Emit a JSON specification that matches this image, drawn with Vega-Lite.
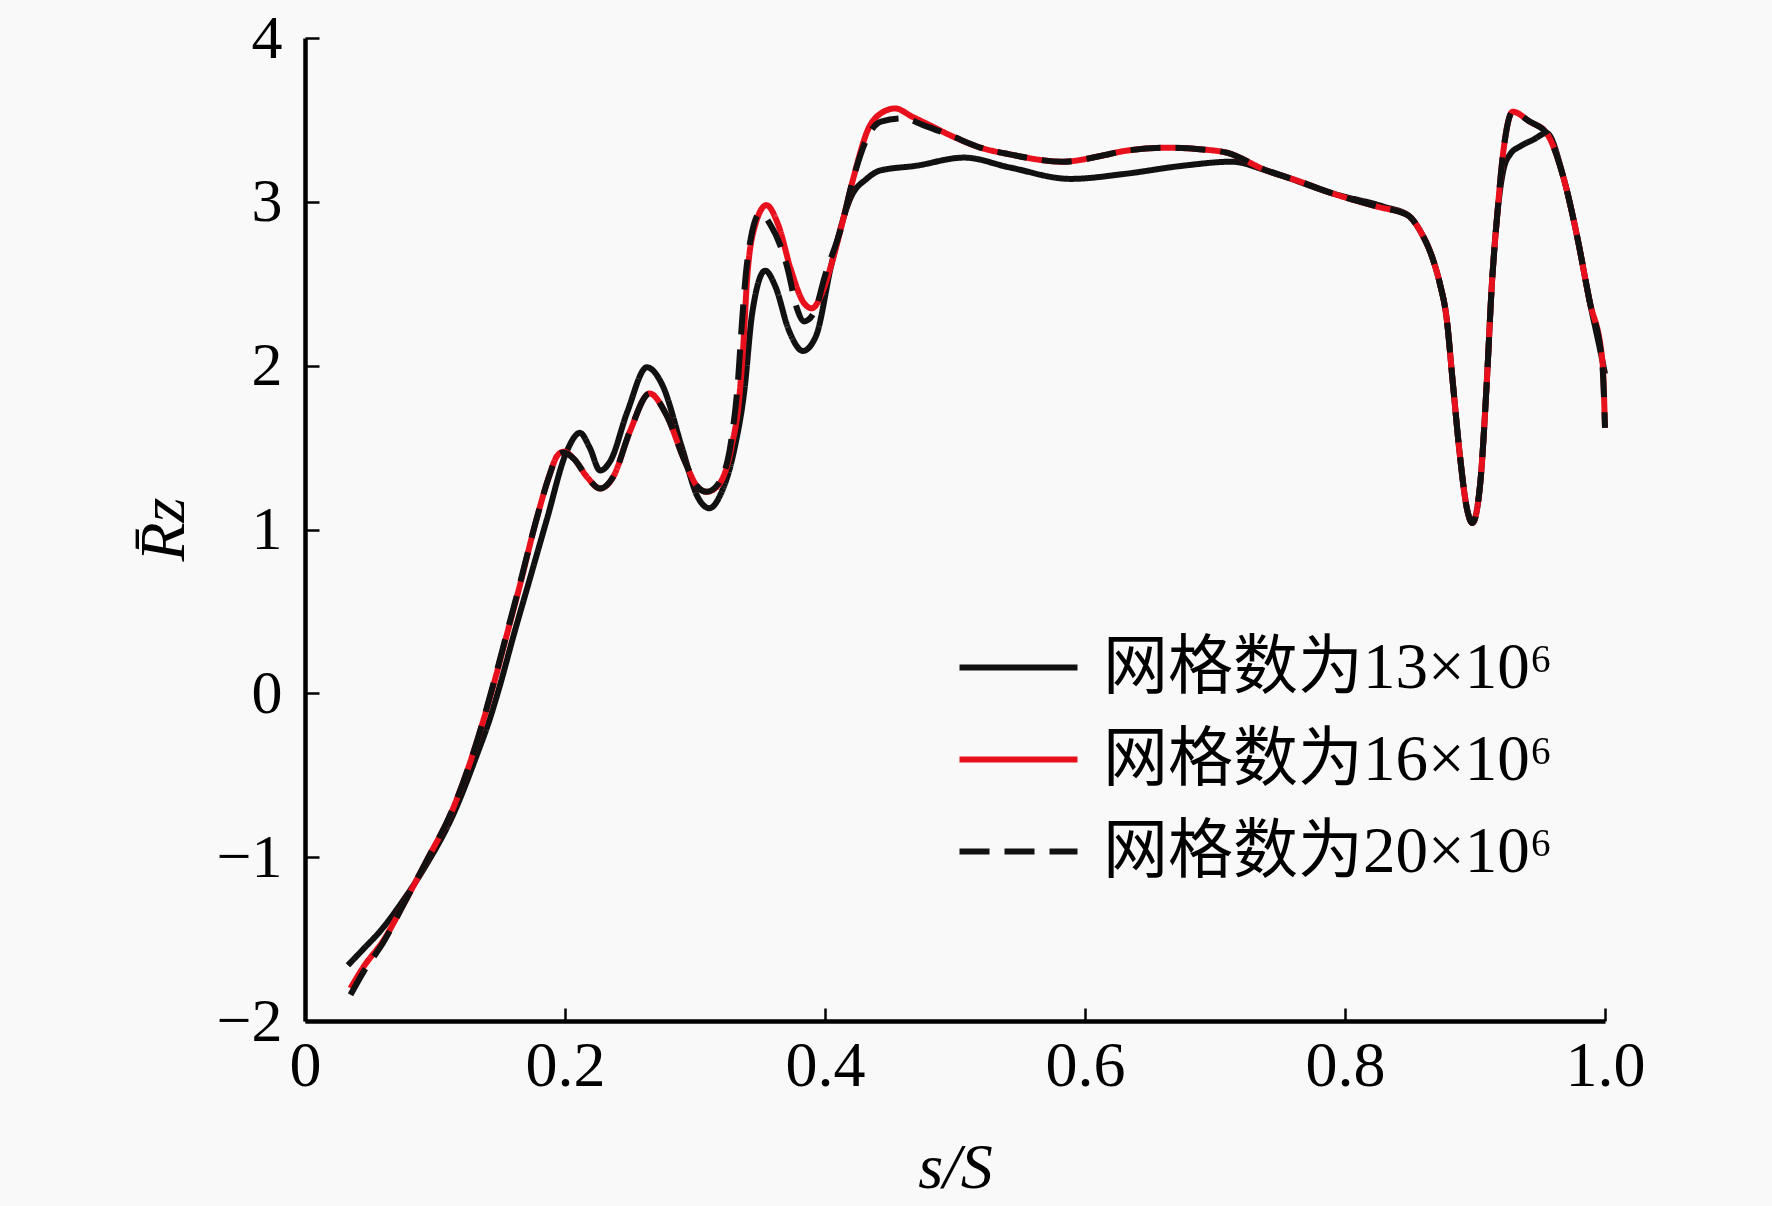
{
  "$schema": "https://vega.github.io/schema/vega-lite/v6.json",
  "width": 1300,
  "height": 983,
  "autosize": {"type": "none"},
  "padding": {"left": 305, "top": 38, "right": 167, "bottom": 185},
  "background": "#f9f9f9",
  "config": {
    "view": {"stroke": null},
    "axis": {"grid": false, "domainColor": "#000", "tickColor": "#000", "labelColor": "#000", "titleColor": "#000", "labelFont": "Liberation Serif", "titleFont": "Liberation Serif", "titleFontWeight": "normal", "titleFontStyle": "italic"}
  },
  "datasets": {
    "A": [
      [0.033,-1.66],[0.045,-1.56],[0.058,-1.45],[0.075,-1.27],[0.093,-1.05],[0.114,-0.74],[0.132,-0.38],[0.142,-0.16],[0.150,0.05],[0.160,0.34],[0.173,0.70],[0.186,1.06],[0.201,1.47],[0.2115,1.59],[0.219,1.50],[0.227,1.36],[0.235,1.42],[0.248,1.72],[0.263,1.99],[0.275,1.88],[0.290,1.50],[0.302,1.20],[0.311,1.13],[0.320,1.22],[0.330,1.48],[0.338,1.85],[0.344,2.32],[0.354,2.58],[0.362,2.48],[0.372,2.22],[0.383,2.09],[0.393,2.18],[0.405,2.62],[0.420,3.03],[0.432,3.14],[0.442,3.19],[0.470,3.22],[0.507,3.27],[0.542,3.21],[0.589,3.14],[0.630,3.17],[0.675,3.22],[0.713,3.245],[0.740,3.19],[0.791,3.05],[0.830,2.97],[0.848,2.92],[0.858,2.82],[0.868,2.64],[0.873,2.50],[0.878,2.30],[0.883,1.89],[0.888,1.48],[0.894,1.12],[0.898,1.04],[0.904,1.28],[0.909,1.89],[0.913,2.50],[0.917,2.91],[0.922,3.20],[0.927,3.29],[0.935,3.34],[0.945,3.38],[0.955,3.42],[0.968,3.15],[0.978,2.81],[0.988,2.40],[0.998,2.03],[1.0,1.95]
    ],
    "B": [
      [0.035,-1.80],[0.045,-1.67],[0.061,-1.50],[0.075,-1.30],[0.093,-1.03],[0.114,-0.70],[0.132,-0.30],[0.146,0.08],[0.155,0.35],[0.165,0.65],[0.178,1.06],[0.188,1.33],[0.194,1.45],[0.199,1.475],[0.207,1.43],[0.217,1.32],[0.227,1.25],[0.237,1.32],[0.250,1.60],[0.265,1.83],[0.278,1.70],[0.292,1.42],[0.302,1.26],[0.309,1.23],[0.318,1.27],[0.328,1.50],[0.334,1.80],[0.337,2.10],[0.340,2.52],[0.346,2.85],[0.355,2.98],[0.364,2.86],[0.374,2.58],[0.384,2.38],[0.390,2.35],[0.398,2.45],[0.405,2.62],[0.412,2.83],[0.422,3.15],[0.433,3.44],[0.443,3.54],[0.454,3.57],[0.467,3.52],[0.480,3.47],[0.498,3.40],[0.520,3.33],[0.542,3.29],[0.583,3.245],[0.612,3.28],[0.630,3.31],[0.663,3.33],[0.690,3.32],[0.709,3.30],[0.740,3.19],[0.763,3.13],[0.791,3.05],[0.825,2.97],[0.848,2.92],[0.858,2.82],[0.868,2.64],[0.873,2.50],[0.878,2.30],[0.883,1.89],[0.888,1.48],[0.894,1.12],[0.898,1.04],[0.904,1.28],[0.909,1.89],[0.913,2.50],[0.917,2.91],[0.922,3.32],[0.929,3.55],[0.942,3.49],[0.955,3.42],[0.968,3.15],[0.978,2.81],[0.988,2.40],[0.998,2.03],[1.0,1.62]
    ],
    "C": [
      [0.035,-1.84],[0.045,-1.70],[0.061,-1.51],[0.075,-1.30],[0.093,-1.03],[0.114,-0.70],[0.132,-0.30],[0.146,0.09],[0.155,0.36],[0.165,0.66],[0.178,1.06],[0.188,1.33],[0.194,1.45],[0.199,1.47],[0.207,1.43],[0.217,1.32],[0.227,1.25],[0.237,1.32],[0.250,1.60],[0.265,1.83],[0.278,1.70],[0.292,1.42],[0.302,1.26],[0.309,1.23],[0.318,1.28],[0.328,1.55],[0.333,1.90],[0.336,2.25],[0.339,2.55],[0.343,2.78],[0.350,2.93],[0.358,2.86],[0.371,2.60],[0.378,2.36],[0.384,2.27],[0.392,2.33],[0.400,2.55],[0.412,2.83],[0.422,3.15],[0.433,3.40],[0.443,3.49],[0.460,3.51],[0.475,3.47],[0.498,3.40],[0.520,3.33],[0.542,3.29],[0.583,3.245],[0.612,3.28],[0.630,3.31],[0.663,3.33],[0.690,3.32],[0.709,3.30],[0.740,3.19],[0.763,3.13],[0.791,3.05],[0.825,2.97],[0.848,2.92],[0.858,2.82],[0.868,2.64],[0.873,2.50],[0.878,2.30],[0.883,1.89],[0.888,1.48],[0.894,1.12],[0.898,1.04],[0.904,1.28],[0.909,1.89],[0.913,2.50],[0.917,2.91],[0.922,3.32],[0.929,3.55],[0.942,3.49],[0.955,3.42],[0.968,3.15],[0.978,2.81],[0.988,2.40],[0.998,2.0],[1.0,1.62]
    ]
  },
  "encoding": {
    "x": {"field": "0", "type": "quantitative", "scale": {"domain": [0, 1], "nice": false, "zero": false},
      "axis": {"values": [0, 0.2, 0.4, 0.6, 0.8, 1.0], "labelExpr": "datum.value == 0 ? '0' : format(datum.value, '.1f')", "domainWidth": 4.5, "tickWidth": 2.5, "tickSize": -13, "labelFontSize": 64, "labelPadding": 26, "labelFlush": false, "title": "s/S", "titleFontSize": 64, "titleY": 166, "titleBaseline": "alphabetic"}},
    "y": {"field": "1", "type": "quantitative", "scale": {"domain": [-2, 4], "nice": false, "zero": false},
      "axis": {"values": [-2, -1, 0, 1, 2, 3, 4], "domainWidth": 4.5, "tickWidth": 2.5, "tickSize": -14, "labelFontSize": 62, "labelPadding": 37, "labelFlush": false, "title": "R̄z", "titleFontSize": 64, "titleX": -141, "titleY": 491, "titleAngle": -90, "titleAlign": "center", "titleBaseline": "middle"}},
    "color": {"field": "g", "type": "nominal",
      "scale": {"domain": ["网格数为13×10⁶", "网格数为16×10⁶", "网格数为20×10⁶"], "range": ["#111111", "#e8101c", "#111111"]},
      "legend": {"orient": "none", "legendX": 681, "legendY": 597, "title": null, "symbolType": "M-4,0H4", "symbolSize": 870, "symbolStrokeWidth": 6, "labelFont": "Liberation Serif, Noto Sans CJK SC", "labelFontSize": 65, "labelColor": "#000", "labelOffset": 52, "rowPadding": 26, "padding": 0, "labelLimit": 0}},
    "strokeDash": {"field": "g", "type": "nominal",
      "scale": {"domain": ["网格数为13×10⁶", "网格数为16×10⁶", "网格数为20×10⁶"], "range": [[1, 0], [1, 0], [30, 15]]},
      "legend": null}
  },
  "layer": [
    {"data": {"name": "A"}, "transform": [{"calculate": "'网格数为13×10⁶'", "as": "g"}], "mark": {"type": "line", "interpolate": "monotone", "strokeWidth": 6}},
    {"data": {"name": "B"}, "transform": [{"calculate": "'网格数为16×10⁶'", "as": "g"}], "mark": {"type": "line", "interpolate": "monotone", "strokeWidth": 6}},
    {"data": {"name": "C"}, "transform": [{"calculate": "'网格数为20×10⁶'", "as": "g"}], "mark": {"type": "line", "interpolate": "monotone", "strokeWidth": 6}}
  ]
}
